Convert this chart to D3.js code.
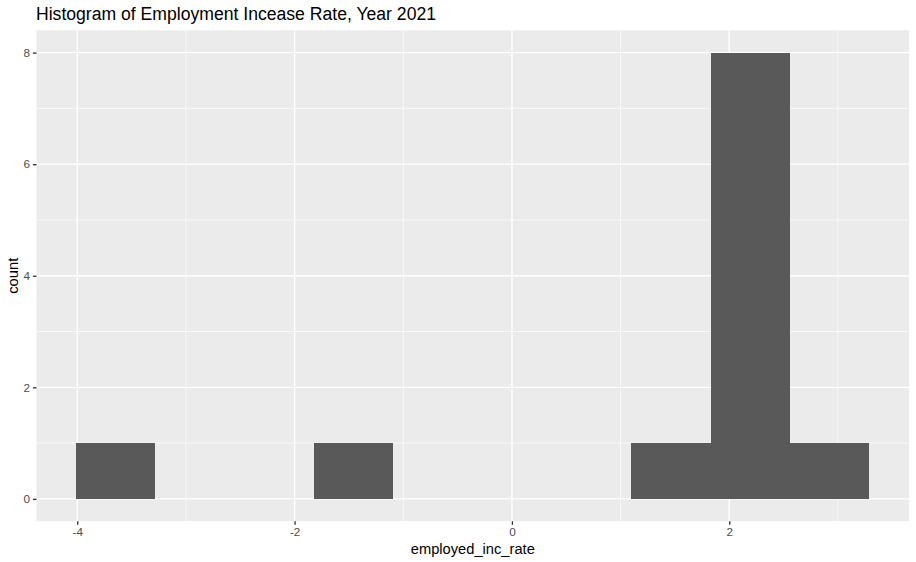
<!DOCTYPE html>
<html>
<head>
<meta charset="utf-8">
<script src="https://cdn.jsdelivr.net/npm/d3@7"></script>
<style>
  html, body { margin: 0; padding: 0; background: #fff; }
  svg { display: block; font-family: "Liberation Sans", Arial, Helvetica, sans-serif; }
</style>
</head>
<body>
<svg id="chart" width="916" height="562"></svg>
<script>
// ---- data ----
const binEdges = [-4.01, -3.28, -2.55, -1.82, -1.09, -0.36, 0.37, 1.10, 1.83, 2.56, 3.29];
const binCounts = [1, 0, 0, 1, 0, 0, 0, 1, 8, 1];
const xMajorTicks = [-4, -2, 0, 2];
const xMinorTicks = [-3, -1, 1, 3];
const yMajorTicks = [0, 2, 4, 6, 8];
const yMinorTicks = [1, 3, 5, 7];
const titleText = "Histogram of Employment Incease Rate, Year 2021";
const xLabel = "employed_inc_rate";
const yLabel = "count";

// ---- layout ----
const W = 916, H = 562;
const panel = { left: 36.5, right: 909.1, top: 30.3, bottom: 521.2 };

const bins = binCounts.map((c, i) => ({ x0: binEdges[i], x1: binEdges[i + 1], count: c }));

const xMin = d3.min(binEdges), xMax = d3.max(binEdges);
const xPad = (xMax - xMin) * 0.05;
const yMax = d3.max(binCounts);
const yPad = yMax * 0.05;

const x = d3.scaleLinear().domain([xMin - xPad, xMax + xPad]).range([panel.left, panel.right]);
const y = d3.scaleLinear().domain([0 - yPad, yMax + yPad]).range([panel.bottom, panel.top]);

const svg = d3.select("#chart");

// panel background
svg.append("rect")
  .attr("x", panel.left).attr("y", panel.top)
  .attr("width", panel.right - panel.left).attr("height", panel.bottom - panel.top)
  .attr("fill", "#EBEBEB");

const grid = svg.append("g");
// minor grid
grid.selectAll(".xminor").data(xMinorTicks).enter().append("line")
  .attr("x1", d => x(d)).attr("x2", d => x(d))
  .attr("y1", panel.top).attr("y2", panel.bottom)
  .attr("stroke", "#fff").attr("stroke-width", 0.67);
grid.selectAll(".yminor").data(yMinorTicks).enter().append("line")
  .attr("x1", panel.left).attr("x2", panel.right)
  .attr("y1", d => y(d)).attr("y2", d => y(d))
  .attr("stroke", "#fff").attr("stroke-width", 0.67);
// major grid
grid.selectAll(".xmajor").data(xMajorTicks).enter().append("line")
  .attr("x1", d => x(d)).attr("x2", d => x(d))
  .attr("y1", panel.top).attr("y2", panel.bottom)
  .attr("stroke", "#fff").attr("stroke-width", 1.33);
grid.selectAll(".ymajor").data(yMajorTicks).enter().append("line")
  .attr("x1", panel.left).attr("x2", panel.right)
  .attr("y1", d => y(d)).attr("y2", d => y(d))
  .attr("stroke", "#fff").attr("stroke-width", 1.33);

// bars
svg.append("g").selectAll("rect").data(bins.filter(b => b.count > 0)).enter().append("rect")
  .attr("x", d => x(d.x0))
  .attr("width", d => x(d.x1) - x(d.x0))
  .attr("y", d => y(d.count))
  .attr("height", d => y(0) - y(d.count))
  .attr("fill", "#595959")
  .attr("shape-rendering", "crispEdges");

// axes
const tickLen = 3.6, tickPad = 2.9;
const xAxis = d3.axisBottom(x).tickValues(xMajorTicks).tickSize(tickLen).tickPadding(tickPad)
  .tickFormat(d3.format("d"));
const gx = svg.append("g").attr("transform", `translate(0,${panel.bottom})`).call(xAxis);
gx.select(".domain").remove();
gx.selectAll(".tick line").attr("stroke", "#333333").attr("stroke-width", 1.33);
gx.selectAll(".tick text").attr("fill", "#4D4D4D").style("font-size", "11.7px")
  .attr("font-family", "Liberation Sans, Arial, sans-serif").text(d => d < 0 ? "-" + Math.abs(d) : d);

const yAxis = d3.axisLeft(y).tickValues(yMajorTicks).tickSize(tickLen).tickPadding(tickPad)
  .tickFormat(d3.format("d"));
const gy = svg.append("g").attr("transform", `translate(${panel.left},0)`).call(yAxis);
gy.select(".domain").remove();
gy.selectAll(".tick line").attr("stroke", "#333333").attr("stroke-width", 1.33);
gy.selectAll(".tick text").attr("fill", "#4D4D4D").style("font-size", "11.7px")
  .attr("font-family", "Liberation Sans, Arial, sans-serif");

// titles
svg.append("text")
  .attr("x", panel.left - 0.5).attr("y", 20)
  .attr("fill", "#000").style("font-size", "17.6px")
  .text(titleText);

svg.append("text")
  .attr("x", (panel.left + panel.right) / 2).attr("y", 553.5)
  .attr("text-anchor", "middle")
  .attr("fill", "#000").style("font-size", "14.7px")
  .text(xLabel);

svg.append("text")
  .attr("transform", `translate(17.6,${(panel.top + panel.bottom) / 2}) rotate(-90)`)
  .attr("text-anchor", "middle")
  .attr("fill", "#000").style("font-size", "14.7px")
  .text(yLabel);
</script>
</body>
</html>
